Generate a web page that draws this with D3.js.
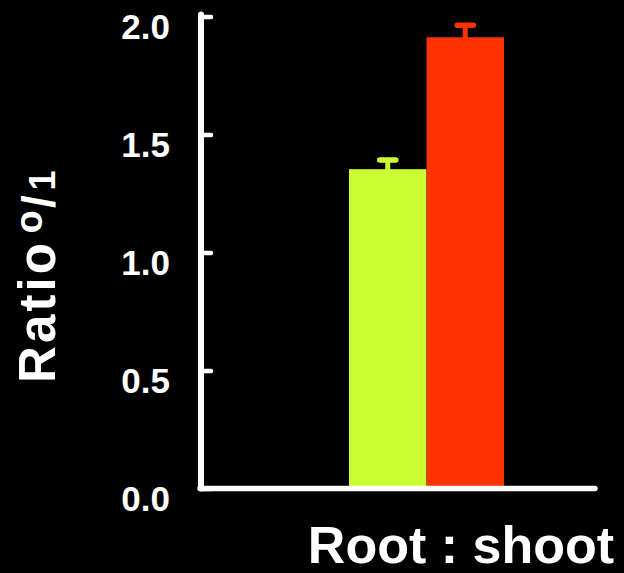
<!DOCTYPE html>
<html>
<head>
<meta charset="utf-8">
<script src="https://cdn.jsdelivr.net/npm/d3@7"></script>
<style>
  html, body { margin: 0; padding: 0; background: #000; }
  svg { display: block; }
  text { font-family: "Liberation Sans", Arial, sans-serif; font-weight: bold; fill: #fff; }
</style>
</head>
<body>
<svg id="chart" width="624" height="573"></svg>
<script>
// Root : shoot ratio for the two groups
const groups = ["ratio0", "ratio1"];
const means = [1.353, 1.912];
const errorTops = [1.392, 1.963];
const barColors = ["#ccff33", "#ff3300"];
const yTicks = [0, 0.5, 1.0, 1.5, 2.0];

const svg = d3.select("#chart");

const y = d3.scaleLinear().domain([0, 2]).range([488.5, 16.5]);
const x = d3.scaleBand().domain(groups).range([349, 504]).padding(0);

// bars
svg.append("g").selectAll("rect")
  .data(groups)
  .join("rect")
  .attr("x", d => x(d))
  .attr("width", x.bandwidth())
  .attr("y", (d, i) => y(means[i]))
  .attr("height", (d, i) => y(0) - y(means[i]))
  .attr("fill", (d, i) => barColors[i]);

// error bars (upper whisker only)
const eb = svg.append("g").attr("stroke-linecap", "round");
eb.selectAll("line.stem")
  .data(groups)
  .join("line")
  .attr("class", "stem")
  .attr("x1", d => x(d) + x.bandwidth() / 2)
  .attr("x2", d => x(d) + x.bandwidth() / 2)
  .attr("y1", (d, i) => y(means[i]))
  .attr("y2", (d, i) => y(errorTops[i]))
  .attr("stroke", (d, i) => barColors[i])
  .attr("stroke-width", 5);
eb.selectAll("line.cap")
  .data(groups)
  .join("line")
  .attr("class", "cap")
  .attr("x1", d => x(d) + x.bandwidth() / 2 - 8)
  .attr("x2", d => x(d) + x.bandwidth() / 2 + 8)
  .attr("y1", (d, i) => y(errorTops[i]))
  .attr("y2", (d, i) => y(errorTops[i]))
  .attr("stroke", (d, i) => barColors[i])
  .attr("stroke-width", 5.5);

// y axis with inward ticks
const yAxis = d3.axisLeft(y)
  .tickValues(yTicks)
  .tickFormat(d3.format(".1f"))
  .tickSize(-10)
  .tickSizeOuter(0)
  .tickPadding(31);

const gy = svg.append("g")
  .attr("transform", "translate(201,0)")
  .call(yAxis);
gy.select(".domain").remove();
gy.selectAll(".tick line")
  .attr("stroke", "#fff")
  .attr("stroke-width", 4.5)
  .attr("stroke-linecap", "round");
gy.selectAll(".tick text")
  .attr("font-size", 35)
  .attr("font-family", "Liberation Sans, Arial, sans-serif")
  .attr("font-weight", "bold")
  .attr("fill", "#fff")
  .attr("dy", "0.62em");

// axis lines
svg.append("line")
  .attr("x1", 201).attr("x2", 201)
  .attr("y1", y(2) - 2).attr("y2", y(0))
  .attr("stroke", "#fff").attr("stroke-width", 6).attr("stroke-linecap", "round");
svg.append("line")
  .attr("x1", 200).attr("x2", 595)
  .attr("y1", y(0)).attr("y2", y(0))
  .attr("stroke", "#fff").attr("stroke-width", 5.5).attr("stroke-linecap", "round");

// y title: Ratio ⁰/₁ (rotated; local x runs up the page, baseline at y = 0)
const yTitle = svg.append("g")
  .attr("transform", "translate(55,380) rotate(-90)");
yTitle.append("text")
  .attr("x", -3).attr("y", 0)
  .attr("font-size", 51)
  .attr("textLength", 140)
  .attr("lengthAdjust", "spacing")
  .text("Ratio");
yTitle.append("text")
  .attr("x", 146.5).attr("y", -13)
  .attr("font-size", 38)
  .text("o");
yTitle.append("text")
  .attr("x", 172).attr("y", 0)
  .attr("font-size", 46)
  .text("/");
yTitle.append("text")
  .attr("x", 189.5).attr("y", 0)
  .attr("font-size", 36)
  .text("1");

// x title
svg.append("text")
  .attr("x", 614)
  .attr("y", 563)
  .attr("font-size", 52)
  .attr("text-anchor", "end")
  .text("Root : shoot");
</script>
</body>
</html>
